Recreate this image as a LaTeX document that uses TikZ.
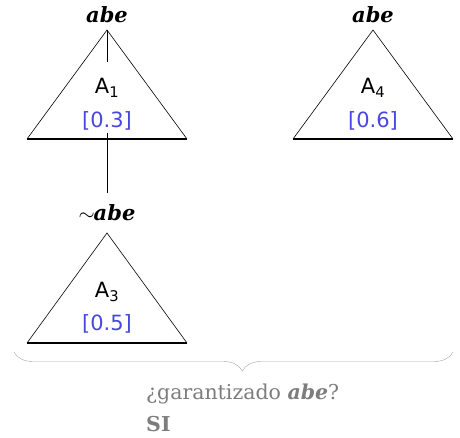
\documentclass[tikz,border=0pt]{standalone}
\usepackage{fontspec}
\setmainfont{DejaVu Serif}
\newfontfamily\labfont{DejaVu Sans}
\usetikzlibrary{positioning,decorations.pathreplacing}
\definecolor{valblue}{RGB}{72,72,224}
\definecolor{notegray}{RGB}{125,125,125}
\definecolor{bracegray}{RGB}{165,165,165}

\begin{document}
\begin{tikzpicture}[x=1pt,y=-1pt,every node/.style={inner sep=1pt},
 lit/.style={font=\fontsize{21}{23}\selectfont\bfseries\itshape},
 arg/.style={font=\labfont\fontsize{21}{23}\selectfont},
 val/.style={font=\labfont\fontsize{21}{23}\selectfont,text=valblue},
 side/.style={line width=0.6pt},
 base/.style={line width=1.4pt},
 link/.style={line width=0.8pt},
 note/.style={font=\fontsize{20.5}{22}\selectfont,text=notegray,anchor=west}]
\useasboundingbox (0,0) rectangle (460,437);
% argument A1
\coordinate (p1) at (107,30);
\coordinate (l1) at (27,139);\coordinate (r1) at (187,139);
\draw[side] (l1) -- (p1) -- (r1);
\draw[base] (l1) -- (r1);
\node[lit] (h1) at (107,15) {abe};
\node[arg] (a1) at (107,88) {A\textsubscript{1}};
\node[val] (v1) at (107,121) {[0.3]};
% argument A4
\coordinate (p4) at (373,30);
\coordinate (l4) at (293,139);\coordinate (r4) at (453,139);
\draw[side] (l4) -- (p4) -- (r4);
\draw[base] (l4) -- (r4);
\node[lit] (h4) at (373,15) {abe};
\node[arg] (a4) at (373,88) {A\textsubscript{4}};
\node[val] (v4) at (373,121) {[0.6]};
% argument A3
\coordinate (p3) at (107,233);
\coordinate (l3) at (27,343);\coordinate (r3) at (187,343);
\draw[side] (l3) -- (p3) -- (r3);
\draw[base] (l3) -- (r3);
\node[lit] (h3) at (107,213) {$\sim$\kern-1pt abe};
\node[arg] (a3) at (107,292) {A\textsubscript{3}};
\node[val] (v3) at (107,324) {[0.5]};
% links
\coordinate (k1) at (107,62);
\draw[link] (p1) -- (k1);
\draw[link,shorten <=1pt,shorten >=11pt] (v1.south) -- (h3.north);
% brace and answer
\coordinate (b0) at (14,352);\coordinate (b1) at (453,352);
\draw[bracegray,decorate,decoration={brace,mirror,amplitude=19pt,aspect=0.52}] (b0) -- (b1);
\node[note] (q) at (145,394) {¿garantizado \textbf{\textit{abe}}?};
\node[note,font=\fontsize{20.5}{22}\selectfont\bfseries] (ans) at (145,424) {SI};
\end{tikzpicture}
\end{document}
